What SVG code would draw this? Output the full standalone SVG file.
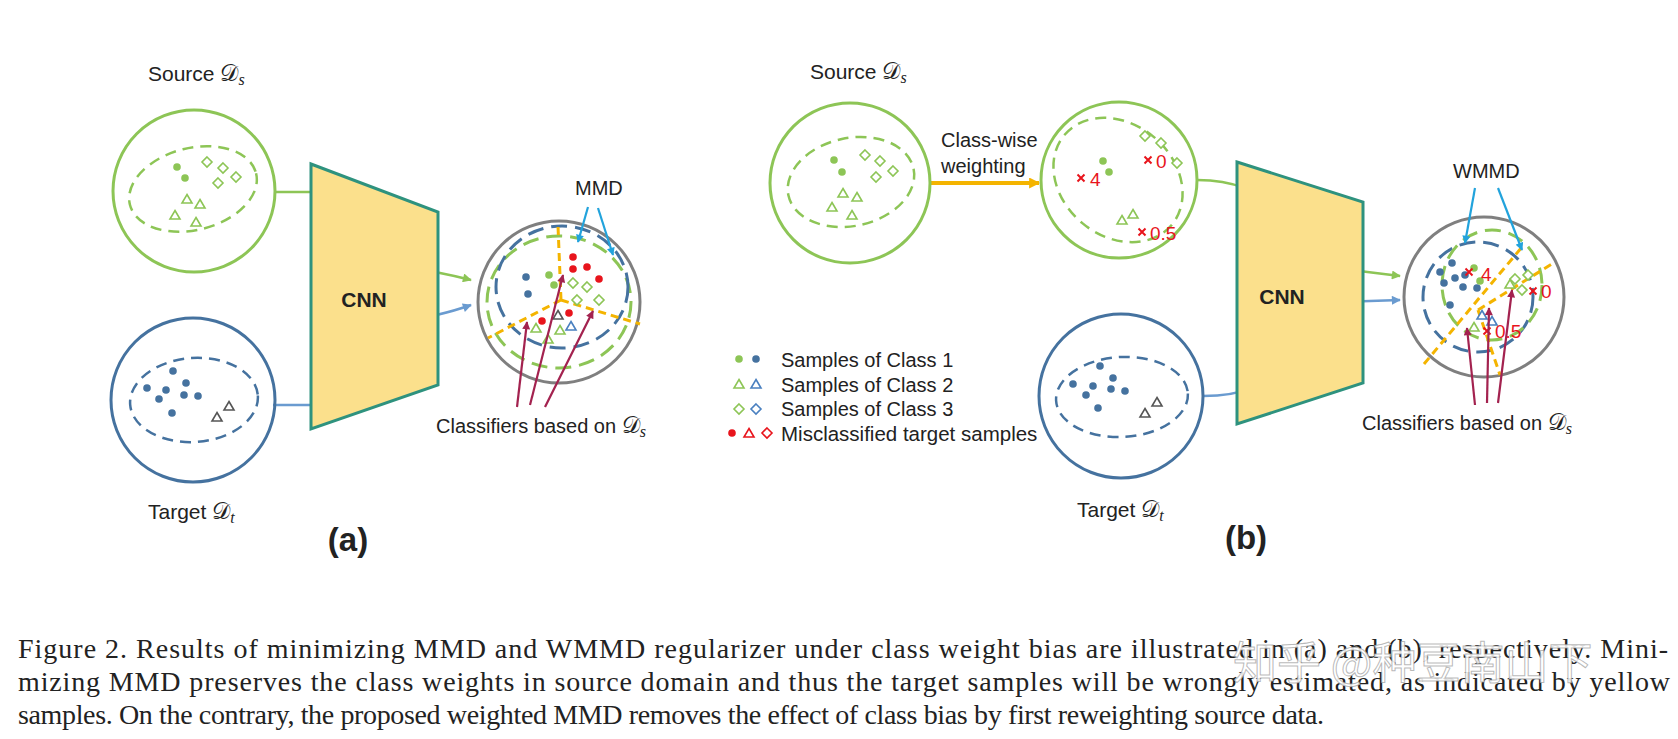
<svg xmlns="http://www.w3.org/2000/svg" width="1678" height="739" viewBox="0 0 1678 739">
<style>
.lbl{font-family:"Liberation Sans",Arial,sans-serif;font-size:20px;fill:#222}
.big{font-size:21px}
.cnnt{font-size:21px;font-weight:bold}
.pl{font-size:33px;font-weight:bold}
.cal{font-family:"DejaVu Serif","Liberation Serif",serif;font-size:23px}
.sub{font-family:"Liberation Serif",serif;font-style:italic;font-size:16px}
.cap{font-family:"Liberation Serif","Times New Roman",serif;font-size:28px;fill:#222}
.gc{fill:none;stroke:#8dc556;stroke-width:3}
.bc{fill:none;stroke:#45729f;stroke-width:3}
.grc{fill:none;stroke:#7f7f7f;stroke-width:3}
.gd{fill:none;stroke:#8dc556;stroke-width:2.5;stroke-dasharray:11 7}
.bd{fill:none;stroke:#45729f;stroke-width:2.5;stroke-dasharray:11 7}
.gdl{fill:none;stroke:#8dc556;stroke-width:3;stroke-dasharray:16 8}
.bdl{fill:none;stroke:#45729f;stroke-width:3;stroke-dasharray:16 8}
.yd{fill:none;stroke:#f4b400;stroke-width:3;stroke-dasharray:8 5}
.gf{fill:#8dc556}
.bf{fill:#45729f}
.rf{fill:#e8141c}
.go{fill:#fff;stroke:#8dc556;stroke-width:1.6}
.bo{fill:#fff;stroke:#4a80c0;stroke-width:1.6}
.ko{fill:#fff;stroke:#555;stroke-width:1.6}
.ro{fill:#fff;stroke:#e8141c;stroke-width:1.6}
.cnn{fill:#fbe08c;stroke:#2e927e;stroke-width:3}
.cg{fill:none;stroke:#8dc556;stroke-width:2.5}
.cb{fill:none;stroke:#6a9bd0;stroke-width:2.5}
.cy{fill:none;stroke:#f4b400;stroke-width:4}
.cm{fill:none;stroke:#a3224f;stroke-width:2.2}
.cc{fill:none;stroke:#22a3dc;stroke-width:2.2}
.rx{stroke:#e8141c;stroke-width:2;fill:none}
.rt{font-family:"Liberation Sans",Arial,sans-serif;font-size:19px;fill:#e8141c}
.wm{font-family:"Noto Sans CJK SC","Liberation Sans",sans-serif;font-size:44px;fill:#fff;fill-opacity:0.9;stroke:#9a9a9a;stroke-width:1;stroke-opacity:0.7}
</style>
<defs>
<circle id="dot" r="3.8"/>
<path id="tri" d="M0,-4.5 L5,4 L-5,4 Z"/>
<path id="dia" d="M0,-5 L5,0 L0,5 L-5,0 Z"/>
<path id="xx" d="M-3.5,-3.5 L3.5,3.5 M3.5,-3.5 L-3.5,3.5"/>
<marker id="ag" viewBox="0 0 10 10" refX="9" refY="5" markerWidth="11" markerHeight="9" orient="auto" markerUnits="userSpaceOnUse"><path d="M0,0 L10,5 L0,10 Z" fill="#8dc556"/></marker>
<marker id="ab" viewBox="0 0 10 10" refX="9" refY="5" markerWidth="11" markerHeight="9" orient="auto" markerUnits="userSpaceOnUse"><path d="M0,0 L10,5 L0,10 Z" fill="#6a9bd0"/></marker>
<marker id="ay" viewBox="0 0 10 10" refX="9" refY="5" markerWidth="13" markerHeight="11" orient="auto" markerUnits="userSpaceOnUse"><path d="M0,0 L10,5 L0,10 Z" fill="#f4b400"/></marker>
<marker id="am" viewBox="0 0 10 10" refX="9" refY="5" markerWidth="9" markerHeight="8" orient="auto" markerUnits="userSpaceOnUse"><path d="M0,0 L10,5 L0,10 Z" fill="#a3224f"/></marker>
<marker id="ac" viewBox="0 0 10 10" refX="9" refY="5" markerWidth="9" markerHeight="8" orient="auto" markerUnits="userSpaceOnUse"><path d="M0,0 L10,5 L0,10 Z" fill="#22a3dc"/></marker>
</defs>
<rect width="1678" height="739" fill="#fff"/>

<!-- connectors -->
<g id="connectors">
<path class="cg" d="M275,192 H318 C352,192 350,258 395,265 Q440,272 471,280" marker-end="url(#ag)"/>
<path class="cb" d="M273,405 H310 C345,405 342,330 395,323 Q440,316 471,305" marker-end="url(#ab)"/>
<path class="cy" d="M931,183 H1039" marker-end="url(#ay)"/>
<path class="cg" d="M1197,180 C1235,180 1255,190 1275,212 C1295,236 1300,262 1335,268 L1400,276" marker-end="url(#ag)"/>
<path class="cb" d="M1203,396 C1240,396 1275,385 1290,360 C1305,330 1315,306 1340,302 L1400,300" marker-end="url(#ab)"/>
</g>

<!-- panel (a) -->
<g id="source-a">
<text class="lbl big" x="148" y="81">Source <tspan class="cal">𝒟</tspan><tspan class="sub" dy="4">s</tspan></text>
<circle class="gc" cx="194" cy="191" r="81"/>
<ellipse class="gd" cx="193" cy="189" rx="65" ry="41" transform="rotate(-14 193 189)"/>
<use href="#dot" class="gf" x="177" y="167"/><use href="#dot" class="gf" x="185" y="178"/>
<use href="#dia" class="go" x="207" y="162"/><use href="#dia" class="go" x="223" y="168"/><use href="#dia" class="go" x="236" y="177"/><use href="#dia" class="go" x="218" y="183"/>
<use href="#tri" class="go" x="187" y="199"/><use href="#tri" class="go" x="200" y="204"/><use href="#tri" class="go" x="175" y="215"/><use href="#tri" class="go" x="196" y="222"/>
</g>
<g id="target-a">
<circle class="bc" cx="193" cy="400" r="82"/>
<ellipse class="bd" cx="194" cy="400" rx="64" ry="42" transform="rotate(-4 194 400)"/>
<use href="#dot" class="bf" x="173" y="371"/><use href="#dot" class="bf" x="186" y="383"/><use href="#dot" class="bf" x="147" y="388"/><use href="#dot" class="bf" x="166" y="390"/><use href="#dot" class="bf" x="159" y="399"/><use href="#dot" class="bf" x="184" y="395"/><use href="#dot" class="bf" x="198" y="396"/><use href="#dot" class="bf" x="172" y="413"/>
<use href="#tri" class="ko" x="229" y="406"/><use href="#tri" class="ko" x="217" y="417"/>
<text class="lbl big" x="148" y="519">Target <tspan class="cal">𝒟</tspan><tspan class="sub" dy="4">t</tspan></text>
</g>
<g id="cnn-a">
<polygon class="cnn" points="311,164 438,212 438,385 311,429"/>
<text class="lbl cnnt" x="364" y="307" text-anchor="middle">CNN</text>
</g>
<g id="result-a">
<circle class="grc" cx="559" cy="302" r="81"/>
<ellipse class="gdl" cx="559" cy="302" rx="72" ry="66"/>
<ellipse class="bdl" cx="562" cy="287" rx="66" ry="61"/>
<path class="yd" d="M561,300 L558,226 M561,300 L488,338 M561,300 L640,324"/>
<use href="#dot" class="bf" x="526" y="277"/><use href="#dot" class="bf" x="528" y="294"/>
<use href="#dot" class="gf" x="549" y="275"/><use href="#dot" class="gf" x="554" y="285"/>
<use href="#dot" class="rf" x="573" y="257"/><use href="#dot" class="rf" x="573" y="269"/><use href="#dot" class="rf" x="587" y="267"/><use href="#dot" class="rf" x="599" y="279"/><use href="#dot" class="rf" x="569" y="313"/><use href="#dot" class="rf" x="542" y="321"/>
<use href="#dia" class="go" x="573" y="283"/><use href="#dia" class="go" x="587" y="287"/><use href="#dia" class="go" x="577" y="300"/><use href="#dia" class="go" x="599" y="300"/>
<use href="#tri" class="ko" x="558" y="315"/><use href="#tri" class="bo" x="571" y="326"/>
<use href="#tri" class="go" x="536" y="328"/><use href="#tri" class="go" x="560" y="330"/><use href="#tri" class="go" x="548" y="339"/>
<text class="lbl" x="575" y="195">MMD</text>
<path class="cc" d="M588,207 L578,242" marker-end="url(#ac)"/>
<path class="cc" d="M598,208 L613,255" marker-end="url(#ac)"/>
<path class="cm" d="M517,407 L527,322" marker-end="url(#am)"/>
<path class="cm" d="M530,405 L563,275" marker-end="url(#am)"/>
<path class="cm" d="M545,407 L593,311" marker-end="url(#am)"/>
<text class="lbl" x="436" y="433">Classifiers based on <tspan class="cal">𝒟</tspan><tspan class="sub" dy="4">s</tspan></text>
</g>
<text class="lbl pl" x="348" y="551" text-anchor="middle">(a)</text>

<!-- panel (b) -->
<g id="source-b">
<text class="lbl big" x="810" y="79">Source <tspan class="cal">𝒟</tspan><tspan class="sub" dy="4">s</tspan></text>
<circle class="gc" cx="850" cy="183" r="80"/>
<ellipse class="gd" cx="851" cy="182" rx="64" ry="44" transform="rotate(-12 851 182)"/>
<use href="#dot" class="gf" x="834" y="160"/><use href="#dot" class="gf" x="842" y="172"/>
<use href="#dia" class="go" x="865" y="155"/><use href="#dia" class="go" x="880" y="161"/><use href="#dia" class="go" x="893" y="171"/><use href="#dia" class="go" x="876" y="177"/>
<use href="#tri" class="go" x="843" y="193"/><use href="#tri" class="go" x="857" y="197"/><use href="#tri" class="go" x="832" y="207"/><use href="#tri" class="go" x="852" y="215"/>
</g>
<g id="weighting-label">
<text class="lbl" x="941" y="147">Class-wise</text>
<text class="lbl" x="941" y="173">weighting</text>
</g>
<g id="weighted-b">
<circle class="gc" cx="1119" cy="180" r="78"/>
<ellipse class="gd" cx="1118" cy="180" rx="70" ry="56" transform="rotate(40 1118 180)"/>
<use href="#dot" class="gf" x="1103" y="161"/><use href="#dot" class="gf" x="1109" y="172"/>
<use href="#xx" class="rx" x="1081" y="178"/><text class="rt" x="1090" y="186">4</text>
<use href="#dia" class="go" x="1145" y="136"/><use href="#dia" class="go" x="1161" y="143"/><use href="#dia" class="go" x="1177" y="163"/>
<use href="#xx" class="rx" x="1148" y="160"/><text class="rt" x="1156" y="168">0</text>
<use href="#tri" class="go" x="1122" y="220"/><use href="#tri" class="go" x="1133" y="214"/>
<use href="#xx" class="rx" x="1142" y="232"/><text class="rt" x="1150" y="240">0.5</text>
</g>
<g id="target-b">
<circle class="bc" cx="1121" cy="396" r="82"/>
<ellipse class="bd" cx="1122" cy="397" rx="66" ry="40" transform="rotate(-3 1122 397)"/>
<use href="#dot" class="bf" x="1100" y="366"/><use href="#dot" class="bf" x="1113" y="378"/><use href="#dot" class="bf" x="1073" y="384"/><use href="#dot" class="bf" x="1093" y="386"/><use href="#dot" class="bf" x="1111" y="389"/><use href="#dot" class="bf" x="1125" y="391"/><use href="#dot" class="bf" x="1086" y="395"/><use href="#dot" class="bf" x="1098" y="408"/>
<use href="#tri" class="ko" x="1157" y="402"/><use href="#tri" class="ko" x="1145" y="413"/>
<text class="lbl big" x="1077" y="517">Target <tspan class="cal">𝒟</tspan><tspan class="sub" dy="4">t</tspan></text>
</g>
<g id="cnn-b">
<polygon class="cnn" points="1237,162 1363,202 1363,383 1237,424"/>
<text class="lbl cnnt" x="1282" y="304" text-anchor="middle">CNN</text>
</g>
<g id="result-b">
<circle class="grc" cx="1484" cy="297" r="80"/>
<ellipse class="bdl" cx="1478" cy="297" rx="55" ry="55"/>
<ellipse class="gdl" cx="1492" cy="285" rx="50" ry="55"/>
<path class="yd" d="M1424,364 L1522,247 M1478,310 L1555,262 M1478,310 L1500,375"/>
<use href="#dot" class="bf" x="1452" y="263"/><use href="#dot" class="bf" x="1440" y="272"/><use href="#dot" class="bf" x="1455" y="278"/><use href="#dot" class="bf" x="1444" y="283"/><use href="#dot" class="bf" x="1463" y="287"/><use href="#dot" class="bf" x="1477" y="288"/><use href="#dot" class="bf" x="1450" y="305"/><use href="#dot" class="bf" x="1465" y="275"/>
<use href="#dot" class="gf" x="1474" y="268"/><use href="#dot" class="gf" x="1480" y="281"/>
<use href="#xx" class="rx" x="1469" y="272"/><text class="rt" x="1481" y="281">4</text>
<use href="#dia" class="go" x="1515" y="279"/><use href="#dia" class="go" x="1528" y="275"/><use href="#dia" class="go" x="1522" y="290"/>
<use href="#xx" class="rx" x="1533" y="291"/><text class="rt" x="1541" y="298">0</text>
<use href="#tri" class="go" x="1510" y="284"/>
<use href="#tri" class="bo" x="1482" y="315"/><use href="#tri" class="bo" x="1492" y="321"/><use href="#tri" class="go" x="1474" y="327"/>
<use href="#xx" class="rx" x="1487" y="331"/><text class="rt" x="1495" y="338">0.5</text>
<text class="lbl" x="1453" y="178">WMMD</text>
<path class="cc" d="M1475,188 L1465,243" marker-end="url(#ac)"/>
<path class="cc" d="M1498,188 L1522,250" marker-end="url(#ac)"/>
<path class="cm" d="M1475,405 L1467,328" marker-end="url(#am)"/>
<path class="cm" d="M1487,403 L1489,308" marker-end="url(#am)"/>
<path class="cm" d="M1498,403 L1512,290" marker-end="url(#am)"/>
<text class="lbl" x="1362" y="430">Classifiers based on <tspan class="cal">𝒟</tspan><tspan class="sub" dy="4">s</tspan></text>
</g>
<text class="lbl pl" x="1246" y="549" text-anchor="middle">(b)</text>

<g id="legend">
<use href="#dot" class="gf" x="739" y="359"/><use href="#dot" class="bf" x="756" y="359"/>
<text class="lbl" x="781" y="367">Samples of Class 1</text>
<use href="#tri" class="go" x="739" y="384"/><use href="#tri" class="bo" x="756" y="384"/>
<text class="lbl" x="781" y="392">Samples of Class 2</text>
<use href="#dia" class="go" x="739" y="409"/><use href="#dia" class="bo" x="756" y="409"/>
<text class="lbl" x="781" y="416">Samples of Class 3</text>
<use href="#dot" class="rf" x="732" y="433"/><use href="#tri" class="ro" x="749" y="433"/><use href="#dia" class="ro" x="767" y="433"/>
<text class="lbl" x="781" y="441" style="font-size:20.5px">Misclassified target samples</text>
</g>

<g id="caption">
<text class="cap" x="18" y="658" textLength="1650" lengthAdjust="spacing">Figure 2. Results of minimizing MMD and WMMD regularizer under class weight bias are illustrated in (a) and (b), respectively. Mini-</text>
<text class="cap" x="18" y="691" textLength="1652" lengthAdjust="spacing">mizing MMD preserves the class weights in source domain and thus the target samples will be wrongly estimated, as indicated by yellow</text>
<text class="cap" x="18" y="724" textLength="1306" lengthAdjust="spacing">samples. On the contrary, the proposed weighted MMD removes the effect of class bias by first reweighting source data.</text>
</g>
<text class="wm" x="1233" y="679">知乎 @种豆南山下</text>
</svg>
